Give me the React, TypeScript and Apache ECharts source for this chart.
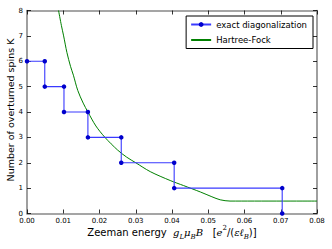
import React, { useEffect, useRef } from "react";
import * as echarts from "echarts";

const edX = [0, 0.0049, 0.0049, 0.0102, 0.0102, 0.0168, 0.0168, 0.026, 0.026, 0.0406, 0.0406, 0.0704, 0.0704];
const edK = [6, 6, 5, 5, 4, 4, 3, 3, 2, 2, 1, 1, 0];

const hfX = [0.0087, 0.0095, 0.0101, 0.011, 0.012, 0.0128, 0.014, 0.0155, 0.0168, 0.019, 0.0215, 0.025, 0.0275, 0.03, 0.034, 0.0395, 0.0432, 0.0478, 0.051, 0.0533, 0.056, 0.08];
const hfK = [8.0, 7.4, 7.0, 6.35, 5.8, 5.45, 4.85, 4.35, 4.0, 3.45, 3.0, 2.5, 2.22, 2.0, 1.65, 1.3, 1.1, 0.85, 0.66, 0.54, 0.49, 0.49];

const FONT = "DejaVu Sans";

export default function App() {
  const ref = useRef<HTMLDivElement>(null);
  useEffect(() => {
    const chart = echarts.init(ref.current!, null, { renderer: "svg" });
    const axisLine = { show: true, onZero: false, lineStyle: { color: "#888", width: 1.6 } };
    const tick = { show: true, inside: true, length: 4, lineStyle: { color: "#000", width: 0.8 } };
    chart.setOption({
      animation: false,
      grid: { left: 27, right: 15, top: 10.5, bottom: 35.5 },
      xAxis: [
        {
          type: "value", min: 0, max: 0.08, interval: 0.01, position: "bottom",
          axisLine, axisTick: tick, splitLine: { show: false },
          axisLabel: { fontFamily: FONT, fontSize: 7, color: "#000", margin: 4, formatter: (v: number) => v.toFixed(2) },
        },
        {
          type: "value", min: 0, max: 0.08, interval: 0.01, position: "top",
          axisLine, axisTick: tick, splitLine: { show: false }, axisLabel: { show: false },
        },
      ],
      yAxis: [
        {
          type: "value", min: 0, max: 8, interval: 1, position: "left",
          axisLine, axisTick: tick, splitLine: { show: false },
          axisLabel: { fontFamily: FONT, fontSize: 7, color: "#000", margin: 4 },
        },
        {
          type: "value", min: 0, max: 8, interval: 1, position: "right",
          axisLine, axisTick: tick, splitLine: { show: false }, axisLabel: { show: false },
        },
      ],
      legend: {
        orient: "vertical", right: 19, top: 16,
        backgroundColor: "#fff", borderColor: "#000", borderWidth: 1, borderRadius: 0,
        padding: [4, 6, 4, 4], itemGap: 6.5, itemWidth: 20, itemHeight: 6,
        textStyle: { fontFamily: FONT, fontSize: 8.5, color: "#000" },
        data: [
          { name: "exact diagonalization", itemStyle: { color: "#0000cc" } },
          { name: "Hartree-Fock", itemStyle: { opacity: 0 } },
        ],
      },
      series: [
        {
          name: "exact diagonalization", type: "line",
          data: edX.map((x, i) => [x, edK[i]]),
          symbol: "circle", symbolSize: 4.5, showAllSymbol: true,
          lineStyle: { color: "#3a3aff", width: 1.1 },
          itemStyle: { color: "#0000cc" },
          z: 3, clip: false,
        },
        {
          name: "Hartree-Fock", type: "line",
          data: hfX.map((x, i) => [x, hfK[i]]),
          symbol: "none", smooth: 0.3,
          lineStyle: { color: "#008000", width: 1 },
          itemStyle: { color: "#008000" },
          z: 2,
        },
      ],
      graphic: [
        {
          type: "text", x: 10, y: 110, rotation: Math.PI / 2,
          style: { text: "Number of overturned spins K", fontFamily: FONT, fontSize: 9.5, fill: "#000", align: "center", verticalAlign: "middle" },
        },
        {
          type: "text", x: 172, y: 232,
          style: {
            text: "{n|Zeeman energy  }{i|g}{s|L}{i|μ}{s|B}{i|B}{n|   [}{i|e}{p|2}{n|/(}{i|εℓ}{s|B}{n|)]}",
            align: "center", verticalAlign: "middle", fill: "#000",
            rich: {
              n: { fontFamily: FONT, fontSize: 10, lineHeight: 16, verticalAlign: "middle" },
              i: { fontFamily: "DejaVu Serif", fontStyle: "italic", fontSize: 10, lineHeight: 16, verticalAlign: "middle" },
              s: { fontFamily: "DejaVu Serif", fontStyle: "italic", fontSize: 7, lineHeight: 9, verticalAlign: "bottom" },
              p: { fontFamily: "DejaVu Serif", fontSize: 7, lineHeight: 9, verticalAlign: "top" },
            },
          },
        },
      ],
    });
    return () => chart.dispose();
  }, []);
  return <div ref={ref} style={{ width: 332, height: 249, position: "absolute", left: 0, top: 0 }} />;
}
